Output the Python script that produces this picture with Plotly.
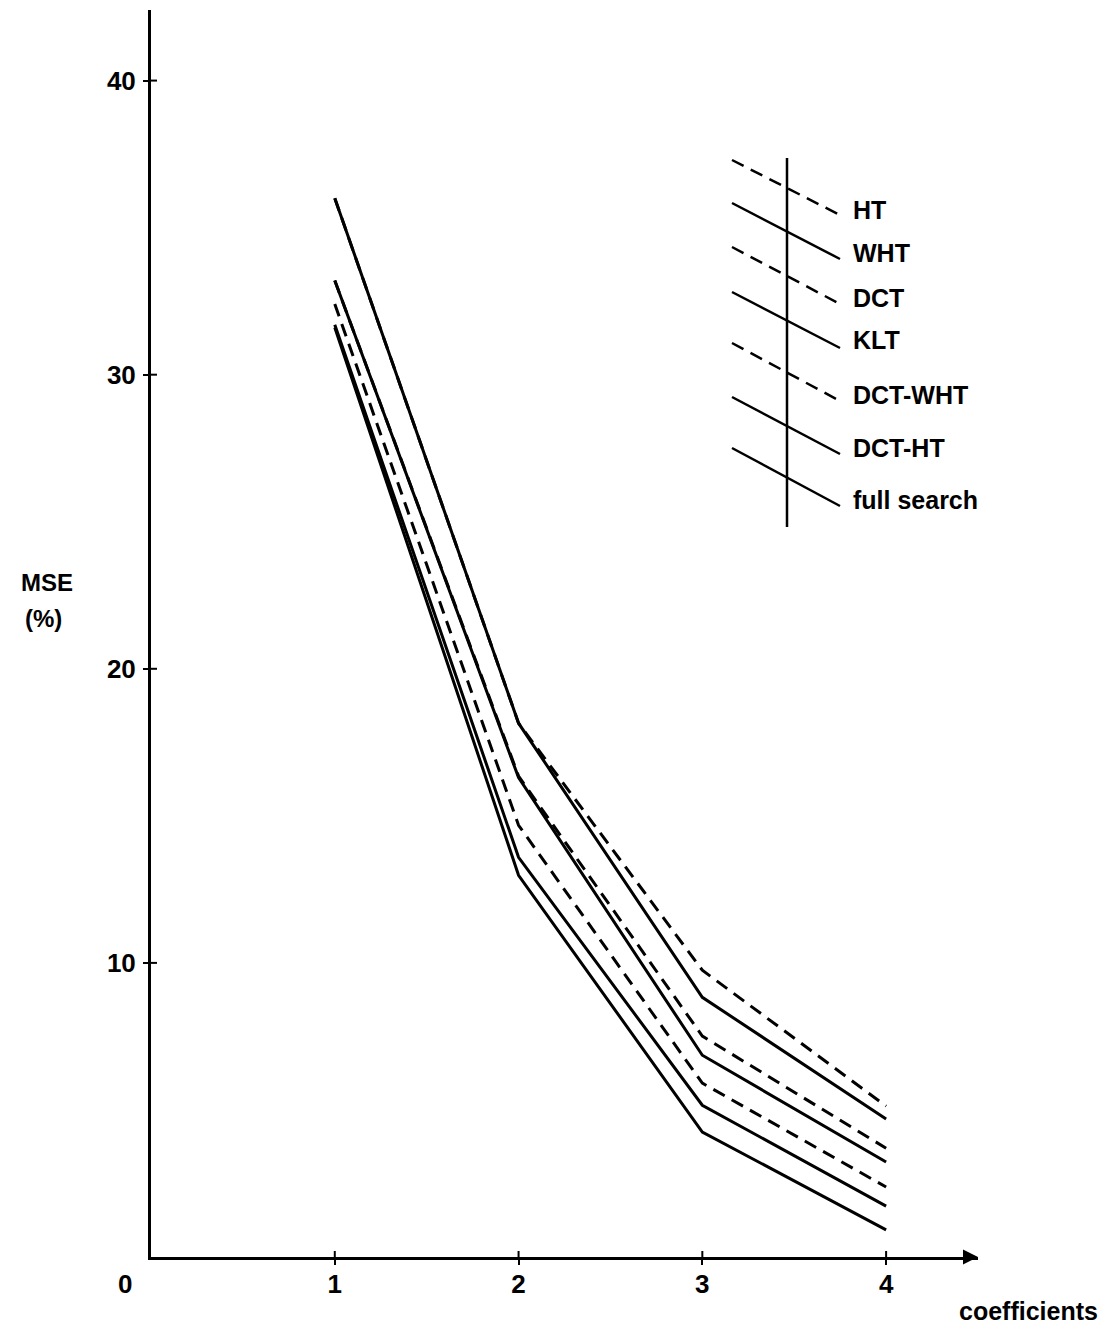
import plotly.graph_objects as go

# ---- data ----
coefficients = [1, 2, 3, 4]
series_names = ["HT", "WHT", "DCT", "KLT", "DCT-WHT", "DCT-HT", "full search"]
mse_HT = [36.0, 18.15, 9.75, 5.13]
mse_WHT = [36.0, 18.15, 8.83, 4.69]
mse_DCT = [33.2, 16.35, 7.51, 3.70]
mse_KLT = [33.2, 16.3, 6.86, 3.23]
mse_DCT_WHT = [32.4, 14.68, 5.91, 2.38]
mse_DCT_HT = [31.7, 13.59, 5.16, 1.73]
mse_full_search = [31.6, 12.98, 4.25, 0.92]
series_values = [mse_HT, mse_WHT, mse_DCT, mse_KLT, mse_DCT_WHT, mse_DCT_HT, mse_full_search]
series_dashed = [True, False, True, False, True, False, False]

x_ticks = [1, 2, 3, 4]
x_ticklabels = ["1", "2", "3", "4"]
y_ticks = [10, 20, 30, 40]
y_ticklabels = ["10", "20", "30", "40"]

# ---- layout geometry (pixels) ----
WIDTH, HEIGHT = 1111, 1328
L, R, T, B = 151, 978, 10, 1257
PW, PH = R - L, B - T
X_MAX, Y_MAX = 4.5, 42.4

def pxx(px):
    return (px - L) / PW

def pxy(py):
    return (B - py) / PH

FONT = "Liberation Sans, Arial, sans-serif"
DASH = "13px,8px"
LW = 3

fig = go.Figure()
for name, vals, dashed in zip(series_names, series_values, series_dashed):
    fig.add_trace(go.Scatter(
        x=coefficients, y=vals, mode="lines", name=name,
        line=dict(color="black", width=LW, dash=DASH if dashed else "solid"),
        showlegend=False,
    ))

shapes = []
annotations = []

# tick crosses (inside half; outside half drawn by axis ticks)
for v in y_ticks:
    shapes.append(dict(type="line", xref="x", yref="y", xsizemode="pixel", xanchor=0,
                       x0=0, x1=6, y0=v, y1=v, line=dict(color="black", width=2)))
for v in x_ticks:
    shapes.append(dict(type="line", xref="x", yref="y", ysizemode="pixel", yanchor=0,
                       x0=v, x1=v, y0=0, y1=6, line=dict(color="black", width=2)))

# custom legend
leg_vline_x = 787
shapes.append(dict(type="line", xref="paper", yref="paper",
                   x0=pxx(leg_vline_x), x1=pxx(leg_vline_x), y0=pxy(158), y1=pxy(527),
                   line=dict(color="black", width=2.5)))
leg_start_y = [160, 203, 247, 292, 343, 397, 448]
leg_end_y = [215, 259, 304, 348, 401, 454, 506]
leg_label_y = [210, 253, 298, 340, 395, 448, 500]
for name, dashed, y0, y1, ly in zip(series_names, series_dashed, leg_start_y, leg_end_y, leg_label_y):
    shapes.append(dict(type="line", xref="paper", yref="paper",
                       x0=pxx(732), x1=pxx(840), y0=pxy(y0), y1=pxy(y1),
                       line=dict(color="black", width=2.5, dash=DASH if dashed else "solid")))
    annotations.append(dict(xref="paper", yref="paper", x=pxx(851), y=pxy(ly),
                            text="<b>%s</b>" % name, showarrow=False,
                            xanchor="left", yanchor="middle",
                            font=dict(family=FONT, size=25, color="black")))

# axis labels
annotations.append(dict(xref="paper", yref="paper", x=pxx(47), y=pxy(582), text="<b>MSE</b>",
                        showarrow=False, xanchor="center", yanchor="middle",
                        font=dict(family=FONT, size=24, color="black")))
annotations.append(dict(xref="paper", yref="paper", x=pxx(44), y=pxy(618), text="<b>(%)</b>",
                        showarrow=False, xanchor="center", yanchor="middle",
                        font=dict(family=FONT, size=24, color="black")))
annotations.append(dict(xref="paper", yref="paper", x=pxx(1100), y=pxy(1311), text="<b>coefficients</b>",
                        showarrow=False, xanchor="right", yanchor="middle",
                        font=dict(family=FONT, size=25, color="black")))
annotations.append(dict(xref="paper", yref="paper", x=pxx(125), y=pxy(1284), text="<b>0</b>",
                        showarrow=False, xanchor="center", yanchor="middle",
                        font=dict(family=FONT, size=26, color="black")))
# arrow tip at the end of the x axis
annotations.append(dict(xref="x", yref="y", x=X_MAX, y=0, ax=-14, ay=0, text="",
                        showarrow=True, arrowhead=2, arrowsize=1, arrowwidth=3, arrowcolor="black"))

fig.update_layout(
    width=WIDTH, height=HEIGHT,
    margin=dict(l=L, r=WIDTH - R, t=T, b=HEIGHT - B, pad=0),
    paper_bgcolor="white", plot_bgcolor="white",
    shapes=shapes, annotations=annotations,
    xaxis=dict(range=[0, X_MAX], tickvals=x_ticks, ticktext=["<b>%s</b>" % t for t in x_ticklabels],
               showgrid=False, zeroline=False, showline=True, linecolor="black", linewidth=3,
               ticks="outside", ticklen=5, tickwidth=2, tickcolor="black",
               ticklabelstandoff=-3,
               tickfont=dict(family=FONT, size=26, color="black")),
    yaxis=dict(range=[0, Y_MAX], tickvals=y_ticks, ticktext=["<b>%s</b>" % t for t in y_ticklabels],
               showgrid=False, zeroline=False, showline=True, linecolor="black", linewidth=3,
               ticks="outside", ticklen=5, tickwidth=2, tickcolor="black",
               ticklabelstandoff=2,
               tickfont=dict(family=FONT, size=26, color="black")),
)

fig.write_html("out.html", config={"displayModeBar": False},
               post_script="document.body.style.margin='0';document.body.style.overflow='hidden';")
